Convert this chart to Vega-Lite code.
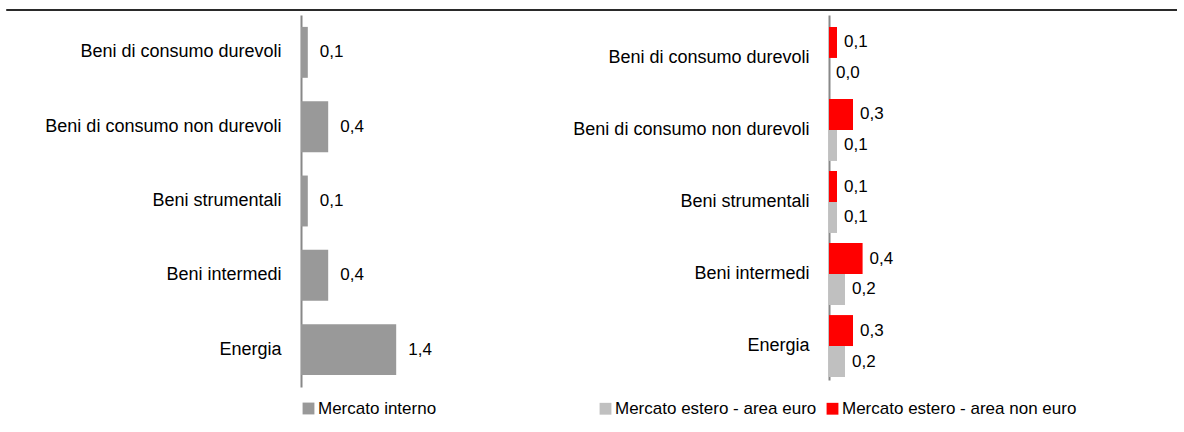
{
  "$schema": "https://vega.github.io/schema/vega-lite/v6.json",
  "padding": {"left": 5, "top": 9, "right": 5, "bottom": 0},
  "background": "white",
  "config": {
    "font": "Liberation Sans",
    "view": {"stroke": null},
    "locale": {"number": {"decimal": ",", "thousands": ".", "grouping": [3], "currency": ["", " €"]}},
    "axis": {"grid": false},
    "legend": {"labelFontSize": 17, "labelColor": "#000", "labelLimit": 400, "symbolType": "square", "symbolSize": 140, "symbolStrokeWidth": 0, "labelOffset": 1, "columnPadding": 7, "padding": 0}
  },
  "vconcat": [
    {
      "data": {"values": [{"inizio": -0.3365, "fine": 1, "v": 1}]},
      "width": 876,
      "height": 1,
      "mark": {"type": "rule", "color": "#2a2a2a", "strokeWidth": 2},
      "encoding": {
        "x": {"field": "inizio", "type": "quantitative", "axis": null, "scale": {"domain": [0, 1]}},
        "x2": {"field": "fine"},
        "y": {"field": "v", "type": "quantitative", "axis": null, "scale": {"domain": [0, 1]}}
      }
    },
    {
      "hconcat": [
        {
          "data": {"values": [
            {"categoria": "Beni di consumo durevoli", "serie": "Mercato interno", "valore": 0.1},
            {"categoria": "Beni di consumo non durevoli", "serie": "Mercato interno", "valore": 0.4},
            {"categoria": "Beni strumentali", "serie": "Mercato interno", "valore": 0.1},
            {"categoria": "Beni intermedi", "serie": "Mercato interno", "valore": 0.4},
            {"categoria": "Energia", "serie": "Mercato interno", "valore": 1.4}
          ]},
          "width": 238,
          "height": 372,
          "encoding": {
            "y": {"field": "categoria", "type": "nominal", "sort": null,
              "scale": {"paddingInner": 0.315, "paddingOuter": 0.16},
              "axis": {"title": null, "ticks": false, "labelPadding": 20, "domainColor": "#888888", "domainWidth": 2, "labelFontSize": 18, "labelColor": "#000", "labelLimit": 400, "minExtent": 296, "maxExtent": 296}},
            "x": {"field": "valore", "type": "quantitative", "axis": null, "scale": {"domain": [0, 3.5]}}
          },
          "layer": [
            {
              "mark": {"type": "bar"},
              "encoding": {
                "color": {"field": "serie", "type": "nominal",
                  "scale": {"domain": ["Mercato interno"], "range": ["#999999"]},
                  "legend": {"title": null, "orient": "none", "legendX": -1, "legendY": 385, "direction": "horizontal"}}
              }
            },
            {
              "mark": {"type": "text", "align": "left", "baseline": "middle", "dx": 12, "fontSize": 17, "color": "#000"},
              "encoding": {"text": {"field": "valore", "type": "quantitative", "format": ".1f"}}
            }
          ]
        },
        {
          "data": {"values": [
            {"categoria": "Beni di consumo durevoli", "serie": "Mercato estero - area non euro", "valore": 0.1},
            {"categoria": "Beni di consumo durevoli", "serie": "Mercato estero - area euro", "valore": 0.0},
            {"categoria": "Beni di consumo non durevoli", "serie": "Mercato estero - area non euro", "valore": 0.3},
            {"categoria": "Beni di consumo non durevoli", "serie": "Mercato estero - area euro", "valore": 0.1},
            {"categoria": "Beni strumentali", "serie": "Mercato estero - area non euro", "valore": 0.1},
            {"categoria": "Beni strumentali", "serie": "Mercato estero - area euro", "valore": 0.1},
            {"categoria": "Beni intermedi", "serie": "Mercato estero - area non euro", "valore": 0.42},
            {"categoria": "Beni intermedi", "serie": "Mercato estero - area euro", "valore": 0.2},
            {"categoria": "Energia", "serie": "Mercato estero - area non euro", "valore": 0.3},
            {"categoria": "Energia", "serie": "Mercato estero - area euro", "valore": 0.2}
          ]},
          "width": 348,
          "height": 365,
          "encoding": {
            "y": {"field": "categoria", "type": "nominal", "sort": null,
              "scale": {"paddingInner": 0.14, "paddingOuter": 0.104, "align": 0.8},
              "axis": {"title": null, "ticks": false, "labelPadding": 20, "domainColor": "#888888", "domainWidth": 2, "labelFontSize": 18, "labelColor": "#000", "labelLimit": 400, "minExtent": 290, "maxExtent": 290}},
            "yOffset": {"field": "serie", "type": "nominal", "sort": ["Mercato estero - area non euro", "Mercato estero - area euro"], "scale": {"paddingInner": 0, "paddingOuter": 0}},
            "x": {"field": "valore", "type": "quantitative", "axis": null, "scale": {"domain": [0, 4.35]}}
          },
          "layer": [
            {
              "mark": {"type": "bar"},
              "encoding": {
                "color": {"field": "serie", "type": "nominal",
                  "scale": {"domain": ["Mercato estero - area euro", "Mercato estero - area non euro"], "range": ["#c0c0c0", "#ff0000"]},
                  "legend": {"title": null, "orient": "none", "legendX": -232, "legendY": 385, "direction": "horizontal", "columns": 2}}
              }
            },
            {
              "mark": {"type": "text", "align": "left", "baseline": "middle", "dx": 7, "fontSize": 17, "color": "#000"},
              "encoding": {"text": {"field": "valore", "type": "quantitative", "format": ".1f"}}
            }
          ]
        }
      ],
      "spacing": 0,
      "resolve": {"scale": {"color": "independent"}, "legend": {"color": "independent"}}
    }
  ],
  "spacing": 4
}
